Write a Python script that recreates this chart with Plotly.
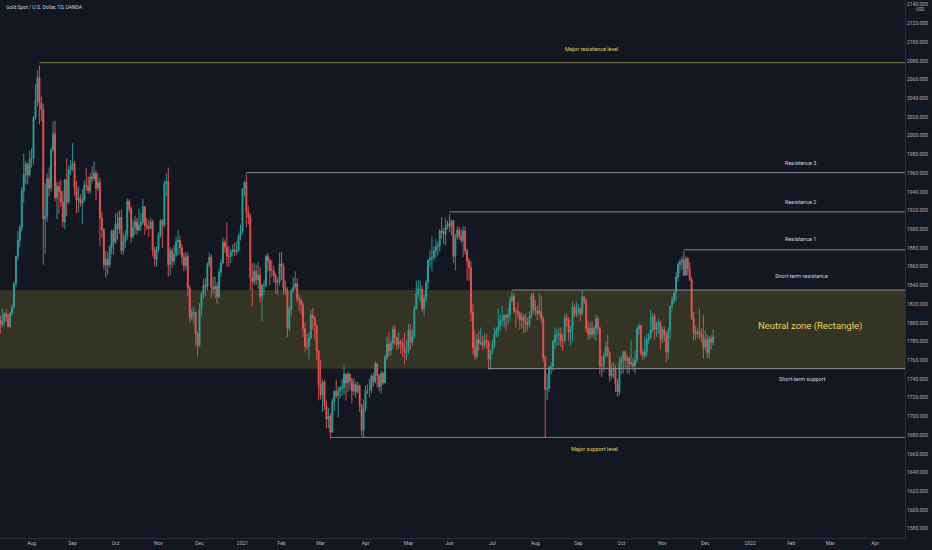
import pandas as pd
import plotly.graph_objects as go


# daily XAUUSD candles, one line per trading week (Jul 6 2020 .. Dec 7 2021)
opens = [
    1775, 1784, 1795, 1809, 1803,
    1798, 1802, 1810, 1807, 1796,
    1810, 1817, 1842, 1871, 1888,
    1902, 1941, 1958, 1970, 1958,
    1975, 1976, 2019, 2038, 2062,
    2035, 2028, 1911, 1914, 1954,
    1944, 1985, 2002, 1934, 1946,
    1940, 1929, 1908, 1953, 1929,
    1964, 1968, 1970, 1944, 1931,
    1933, 1928, 1931, 1947, 1946,
    1941, 1956, 1954, 1960, 1944,
    1950, 1912, 1900, 1862, 1868,
    1862, 1881, 1898, 1886, 1906,
    1900, 1913, 1877, 1887, 1893,
    1930, 1922, 1892, 1902, 1908,
    1899, 1904, 1907, 1924, 1904,
    1902, 1901, 1908, 1878, 1868,
    1879, 1894, 1909, 1904, 1949,
    1951, 1862, 1877, 1866, 1873,
    1887, 1888, 1880, 1870, 1861,
    1871, 1837, 1806, 1811, 1811,
    1788, 1776, 1815, 1831, 1840,
    1838, 1862, 1870, 1838, 1836,
    1839, 1828, 1854, 1864, 1886,
    1881, 1871, 1871, 1876,
    1878, 1876, 1877, 1893,
    1898, 1943, 1950, 1918, 1913,
    1849, 1844, 1855, 1846, 1851,
    1828, 1840, 1840, 1871, 1866,
    1856, 1856, 1850, 1843, 1844,
    1863, 1860, 1837, 1834, 1794,
    1814, 1834, 1838, 1842, 1826,
    1824, 1819, 1794, 1775, 1775,
    1784, 1808, 1806, 1797, 1770,
    1734, 1723, 1737, 1711, 1697,
    1700, 1683, 1716, 1727, 1722,
    1727, 1730, 1731, 1745, 1736,
    1745, 1738, 1727, 1734, 1726,
    1733, 1712, 1685, 1708, 1728,
    1728, 1728, 1743, 1737, 1756,
    1744, 1732, 1746, 1736, 1763,
    1777, 1770, 1778, 1793, 1784,
    1777, 1780, 1778, 1773, 1768,
    1769, 1792, 1779, 1786, 1815,
    1831, 1836, 1836, 1815, 1826,
    1843, 1867, 1869, 1870, 1877,
    1881, 1882, 1898, 1897, 1895,
    1903, 1906, 1903, 1909, 1871,
    1891, 1899, 1893, 1888, 1898,
    1877, 1866, 1859, 1811, 1774,
    1764, 1782, 1778, 1779, 1776,
    1781, 1779, 1761, 1770, 1776,
    1787, 1792, 1796, 1803, 1803,
    1808, 1806, 1808, 1824, 1828,
    1812, 1812, 1810, 1803, 1806,
    1802, 1798, 1799, 1807, 1829,
    1814, 1813, 1810, 1812, 1804,
    1763, 1729, 1730, 1752, 1753,
    1780, 1787, 1787, 1788, 1781,
    1781, 1805, 1803, 1790, 1792,
    1817, 1810, 1814, 1815, 1810,
    1828, 1823, 1794, 1788, 1794,
    1788, 1794, 1804, 1794, 1754,
    1754, 1764, 1774, 1768, 1743,
    1750, 1751, 1734, 1726, 1757,
    1761, 1769, 1760, 1762, 1756,
    1757, 1754, 1760, 1793, 1797,
    1768, 1765, 1769, 1782, 1784,
    1792, 1807, 1793, 1798, 1800,
    1783, 1793, 1787, 1769, 1791,
    1818, 1824, 1832, 1849, 1862,
    1865, 1867, 1851, 1869, 1858,
    1846, 1805, 1789, 1788, 1791,
    1788, 1785, 1774, 1782, 1768,
    1783, 1779,
]

highs = [
    1789, 1797, 1812, 1818, 1808,
    1815, 1811, 1815, 1810, 1812,
    1820, 1843, 1872, 1898, 1905,
    1945, 1981, 1973, 1970, 1984,
    1987, 2021, 2055, 2070, 2075,
    2042, 2034, 1949, 1960, 1966,
    1988, 2015, 2016, 1951, 1951,
    1953, 1941, 1954, 1976, 1968,
    1974, 1992, 1973, 1952, 1946,
    1937, 1943, 1952, 1965, 1956,
    1960, 1967, 1973, 1963, 1960,
    1955, 1919, 1901, 1877, 1876,
    1883, 1900, 1900, 1917, 1918,
    1920, 1921, 1896, 1899, 1933,
    1932, 1925, 1910, 1914, 1912,
    1922, 1917, 1932, 1925, 1912,
    1910, 1912, 1910, 1881, 1882,
    1897, 1911, 1911, 1952, 1960,
    1966, 1881, 1880, 1883, 1892,
    1899, 1893, 1884, 1875, 1876,
    1875, 1840, 1815, 1817, 1812,
    1790, 1821, 1833, 1847, 1848,
    1865, 1875, 1873, 1849, 1849,
    1843, 1858, 1868, 1891, 1889,
    1907, 1882, 1879, 1884,
    1886, 1887, 1895, 1905,
    1944, 1952, 1959, 1925, 1917,
    1864, 1864, 1862, 1865, 1860,
    1842, 1845, 1873, 1875, 1869,
    1867, 1861, 1853, 1848, 1875,
    1876, 1864, 1845, 1838, 1818,
    1836, 1849, 1855, 1848, 1830,
    1826, 1822, 1800, 1788, 1790,
    1814, 1816, 1807, 1799, 1771,
    1760, 1740, 1739, 1717, 1709,
    1703, 1719, 1727, 1739, 1732,
    1733, 1740, 1755, 1746, 1748,
    1746, 1741, 1741, 1737, 1737,
    1734, 1713, 1718, 1733, 1734,
    1740, 1745, 1747, 1759, 1757,
    1745, 1749, 1748, 1766, 1785,
    1790, 1782, 1797, 1797, 1785,
    1790, 1782, 1784, 1790, 1782,
    1799, 1798, 1793, 1818, 1845,
    1846, 1845, 1840, 1830, 1846,
    1868, 1877, 1892, 1882, 1890,
    1887, 1900, 1913, 1901, 1912,
    1909, 1916, 1910, 1910, 1895,
    1903, 1903, 1900, 1903, 1903,
    1879, 1869, 1866, 1820, 1792,
    1788, 1791, 1795, 1786, 1789,
    1788, 1781, 1771, 1782, 1795,
    1795, 1815, 1809, 1818, 1809,
    1809, 1816, 1829, 1834, 1832,
    1816, 1822, 1812, 1811, 1809,
    1810, 1806, 1812, 1832, 1833,
    1824, 1818, 1832, 1829, 1807,
    1765, 1745, 1754, 1758, 1782,
    1795, 1793, 1795, 1795, 1788,
    1809, 1810, 1806, 1796, 1823,
    1820, 1822, 1820, 1816, 1834,
    1829, 1826, 1802, 1800, 1802,
    1797, 1809, 1807, 1796, 1765,
    1768, 1780, 1787, 1770, 1757,
    1758, 1755, 1740, 1764, 1765,
    1770, 1770, 1766, 1764, 1781,
    1763, 1770, 1796, 1800, 1797,
    1772, 1785, 1788, 1789, 1814,
    1810, 1810, 1801, 1804, 1802,
    1796, 1796, 1791, 1795, 1818,
    1828, 1833, 1854, 1865, 1868,
    1871, 1877, 1871, 1870, 1865,
    1849, 1812, 1797, 1795, 1815,
    1794, 1808, 1792, 1787, 1786,
    1787, 1793,
]

lows = [
    1768, 1780, 1793, 1797, 1789,
    1795, 1797, 1801, 1795, 1795,
    1807, 1815, 1838, 1867, 1881,
    1898, 1928, 1948, 1948, 1956,
    1966, 1969, 2017, 2031, 2012,
    2016, 1862, 1874, 1908, 1935,
    1940, 1982, 1930, 1911, 1917,
    1924, 1902, 1900, 1914, 1927,
    1958, 1962, 1936, 1917, 1918,
    1924, 1906, 1929, 1941, 1938,
    1938, 1949, 1952, 1931, 1941,
    1882, 1891, 1857, 1848, 1851,
    1859, 1873, 1873, 1884, 1889,
    1895, 1873, 1873, 1880, 1889,
    1918, 1885, 1890, 1894, 1894,
    1898, 1898, 1905, 1894, 1899,
    1892, 1900, 1871, 1860, 1860,
    1876, 1891, 1880, 1902, 1935,
    1849, 1851, 1859, 1862, 1870,
    1872, 1873, 1862, 1855, 1857,
    1829, 1800, 1802, 1799, 1775,
    1764, 1774, 1807, 1825, 1828,
    1834, 1860, 1826, 1831, 1826,
    1820, 1826, 1849, 1863, 1875,
    1860, 1860, 1864, 1872,
    1871, 1872, 1876, 1888,
    1895, 1935, 1902, 1905, 1835,
    1817, 1840, 1840, 1836, 1822,
    1802, 1830, 1838, 1855, 1840,
    1849, 1843, 1831, 1830, 1840,
    1846, 1830, 1830, 1785, 1791,
    1808, 1832, 1836, 1822, 1813,
    1809, 1785, 1769, 1771, 1761,
    1782, 1792, 1782, 1760, 1717,
    1718, 1705, 1707, 1687, 1687,
    1676, 1683, 1706, 1719, 1699,
    1719, 1722, 1723, 1717, 1726,
    1729, 1714, 1723, 1720, 1725,
    1705, 1679, 1677, 1705, 1724,
    1720, 1725, 1732, 1735, 1731,
    1727, 1724, 1734, 1735, 1760,
    1764, 1765, 1772, 1776, 1771,
    1772, 1767, 1764, 1756, 1760,
    1767, 1771, 1776, 1783, 1814,
    1826, 1822, 1812, 1808, 1822,
    1836, 1860, 1855, 1866, 1869,
    1872, 1876, 1890, 1884, 1883,
    1900, 1897, 1893, 1864, 1856,
    1889, 1889, 1885, 1870, 1873,
    1845, 1845, 1802, 1766, 1761,
    1761, 1770, 1776, 1771, 1773,
    1772, 1750, 1750, 1766, 1773,
    1784, 1785, 1792, 1797, 1795,
    1791, 1798, 1802, 1822, 1810,
    1795, 1805, 1793, 1794, 1789,
    1790, 1792, 1795, 1805, 1810,
    1808, 1803, 1807, 1800, 1758,
    1677, 1717, 1726, 1745, 1749,
    1772, 1775, 1776, 1774, 1770,
    1779, 1796, 1781, 1776, 1780,
    1806, 1806, 1808, 1802, 1808,
    1820, 1790, 1782, 1782, 1785,
    1782, 1781, 1788, 1745, 1742,
    1747, 1763, 1764, 1737, 1740,
    1741, 1726, 1721, 1722, 1745,
    1746, 1752, 1746, 1745, 1753,
    1749, 1746, 1757, 1787, 1765,
    1760, 1762, 1764, 1777, 1782,
    1790, 1782, 1785, 1788, 1772,
    1778, 1780, 1758, 1761, 1782,
    1814, 1820, 1823, 1844, 1853,
    1857, 1850, 1850, 1851, 1845,
    1803, 1781, 1782, 1784, 1782,
    1779, 1762, 1770, 1762, 1762,
    1772, 1776,
]

closes = [
    1784, 1795, 1809, 1803, 1798,
    1802, 1810, 1807, 1796, 1810,
    1817, 1842, 1871, 1888, 1902,
    1941, 1958, 1970, 1958, 1975,
    1976, 2019, 2038, 2062, 2035,
    2028, 1911, 1914, 1954, 1944,
    1985, 2002, 1934, 1946, 1940,
    1929, 1908, 1953, 1929, 1964,
    1968, 1970, 1944, 1931, 1933,
    1928, 1931, 1947, 1946, 1941,
    1956, 1954, 1960, 1944, 1950,
    1912, 1900, 1862, 1868, 1862,
    1881, 1898, 1886, 1906, 1900,
    1913, 1877, 1887, 1893, 1930,
    1922, 1892, 1902, 1908, 1899,
    1904, 1907, 1924, 1904, 1902,
    1901, 1908, 1878, 1868, 1879,
    1894, 1909, 1904, 1949, 1951,
    1862, 1877, 1866, 1873, 1887,
    1888, 1880, 1870, 1861, 1871,
    1837, 1806, 1811, 1811, 1788,
    1776, 1815, 1831, 1840, 1838,
    1862, 1870, 1838, 1836, 1839,
    1828, 1854, 1864, 1886, 1881,
    1871, 1871, 1876, 1878,
    1876, 1877, 1893, 1898,
    1943, 1950, 1918, 1913, 1849,
    1844, 1855, 1846, 1851, 1828,
    1840, 1840, 1871, 1866, 1856,
    1856, 1850, 1843, 1844, 1863,
    1860, 1837, 1834, 1794, 1814,
    1834, 1838, 1842, 1826, 1824,
    1819, 1794, 1775, 1775, 1784,
    1808, 1806, 1797, 1770, 1734,
    1723, 1737, 1711, 1697, 1700,
    1683, 1716, 1727, 1722, 1727,
    1730, 1731, 1745, 1736, 1745,
    1738, 1727, 1734, 1726, 1733,
    1712, 1685, 1708, 1728, 1728,
    1728, 1743, 1737, 1756, 1744,
    1732, 1746, 1736, 1763, 1777,
    1770, 1778, 1793, 1784, 1777,
    1780, 1778, 1773, 1768, 1769,
    1792, 1779, 1786, 1815, 1831,
    1836, 1836, 1815, 1826, 1843,
    1867, 1869, 1870, 1877, 1881,
    1882, 1898, 1897, 1895, 1903,
    1906, 1903, 1909, 1871, 1891,
    1899, 1893, 1888, 1898, 1877,
    1866, 1859, 1811, 1774, 1764,
    1782, 1778, 1779, 1776, 1781,
    1779, 1761, 1770, 1776, 1787,
    1792, 1796, 1803, 1803, 1808,
    1806, 1808, 1824, 1828, 1812,
    1812, 1810, 1803, 1806, 1802,
    1798, 1799, 1807, 1829, 1814,
    1813, 1810, 1812, 1804, 1763,
    1729, 1730, 1752, 1753, 1780,
    1787, 1787, 1788, 1781, 1781,
    1805, 1803, 1790, 1792, 1817,
    1810, 1814, 1815, 1810, 1828,
    1823, 1794, 1788, 1794, 1788,
    1794, 1804, 1794, 1754, 1754,
    1764, 1774, 1768, 1743, 1750,
    1751, 1734, 1726, 1757, 1761,
    1769, 1760, 1762, 1756, 1757,
    1754, 1760, 1793, 1797, 1768,
    1765, 1769, 1782, 1784, 1792,
    1807, 1793, 1798, 1800, 1783,
    1793, 1787, 1769, 1791, 1818,
    1824, 1832, 1849, 1862, 1865,
    1867, 1851, 1869, 1858, 1846,
    1805, 1789, 1788, 1791, 1788,
    1785, 1774, 1782, 1768, 1783,
    1779, 1785,
]

holidays = ["2020-12-25", "2021-01-01"]
dates = pd.bdate_range("2020-07-06", "2021-12-07")
dates = dates[~dates.isin(pd.to_datetime(holidays))]
assert len(dates) == len(opens) == len(highs) == len(lows) == len(closes)

month_ticks = ["2020-08-03", "2020-09-01", "2020-10-01", "2020-11-02", "2020-12-01",
               "2021-01-04", "2021-02-01", "2021-03-01", "2021-04-01", "2021-05-03",
               "2021-06-01", "2021-07-01", "2021-08-02", "2021-09-01", "2021-10-01",
               "2021-11-01", "2021-12-01", "2022-01-03", "2022-02-01", "2022-03-01",
               "2022-04-01"]
month_labels = ["Aug", "Sep", "Oct", "Nov", "Dec", "2021", "Feb", "Mar", "Apr", "May",
                "Jun", "Jul", "Aug", "Sep", "Oct", "Nov", "Dec", "2022", "Feb", "Mar", "Apr"]

price_ticks = list(range(1580, 2141, 20))

# horizontal levels drawn on the chart
level_names = ["major_res", "res3", "res2", "res1", "st_res", "st_sup", "major_sup"]
level_prices = [2078, 1960.5, 1918.5, 1878, 1835, 1751, 1677.5]
level_starts = ["2020-08-07", "2021-01-06", "2021-06-01", "2021-11-16",
                "2021-07-15", "2021-06-29", "2021-03-08"]
zone_low, zone_high = 1751, 1835

x_end = "2022-04-22 06:00"
BG = "#131722"
YELLOW = "#e3d64a"
GRAY = "#8a8d96"
OLIVE = "#86844f"

fig = go.Figure()
fig.add_trace(go.Candlestick(
    x=dates, open=opens, high=highs, low=lows, close=closes,
    increasing=dict(line=dict(color="#26a69a", width=0.9), fillcolor="#26a69a"),
    decreasing=dict(line=dict(color="#ef5350", width=0.9), fillcolor="#ef5350"),
    whiskerwidth=0, showlegend=False, hoverinfo="skip",
))

# neutral zone rectangle
fig.add_shape(type="rect", xref="paper", yref="y", x0=0, x1=1, y0=zone_low, y1=zone_high,
              fillcolor="rgba(255,235,59,0.14)", line=dict(width=0), layer="below")

for name, price, start in zip(level_names, level_prices, level_starts):
    col = OLIVE if name.startswith("major") else GRAY
    fig.add_shape(type="line", xref="x", yref="y", x0=start, x1=x_end, y0=price, y1=price,
                  line=dict(color=col, width=1))

def label(text, xp, ypix, color, size=5.5):
    fig.add_annotation(text=text, xref="paper", yref="paper", x=xp, y=1 - ypix / 538,
                       showarrow=False, font=dict(size=size, color=color),
                       xanchor="center", yanchor="middle")

label("Major resistance level", 0.654, 49, YELLOW)
label("Resistance 3", 0.884, 163, "#d1d4dc")
label("Resistance 2", 0.884, 202.5, "#d1d4dc")
label("Resistance 1", 0.884, 239, "#d1d4dc")
label("Short-term resistance", 0.886, 276, "#d1d4dc")
label("Neutral zone (Rectangle)", 0.895, 326, YELLOW, size=9.5)
label("Short-term support", 0.887, 379, "#d1d4dc")
label("Major support level", 0.657, 449, YELLOW)

fig.add_annotation(text="Gold Spot / U.S. Dollar, 1D, OANDA", xref="paper", yref="paper",
                   x=0.004, y=1 - 7 / 538, xanchor="left", yanchor="middle", showarrow=False,
                   font=dict(size=5, color="#d1d4dc"))
fig.add_annotation(text="USD", xref="paper", yref="paper", x=1.017, y=1 - 9 / 538,
                   xanchor="center", yanchor="middle", showarrow=False,
                   font=dict(size=4.5, color="#b2b5be"))

fig.update_layout(
    width=932, height=550,
    margin=dict(l=0, r=27, t=0, b=12),
    paper_bgcolor=BG, plot_bgcolor=BG,
    font=dict(family="Roboto", size=5, color="#b2b5be"),
    hovermode=False,
    xaxis=dict(
        type="date", range=["2020-07-09 20:00", x_end],
        rangebreaks=[dict(bounds=["sat", "mon"]), dict(values=holidays)],
        rangeslider=dict(visible=False),
        tickvals=month_ticks, ticktext=month_labels,
        tickfont=dict(size=5, color="#b2b5be"),
        showgrid=False, zeroline=False, ticks="",
        showline=True, linecolor="#2a2e39", linewidth=1,
    ),
    yaxis=dict(
        side="right", range=[1570, 2145],
        tickvals=price_ticks, ticktext=["%.3f" % p for p in price_ticks],
        tickfont=dict(size=5, color="#b2b5be"),
        showgrid=False, zeroline=False, ticks="",
        showline=True, linecolor="#2a2e39", linewidth=1,
    ),
)

fig.write_html("out.html", config={"displayModeBar": False},
               post_script="document.body.style.margin='0';")
